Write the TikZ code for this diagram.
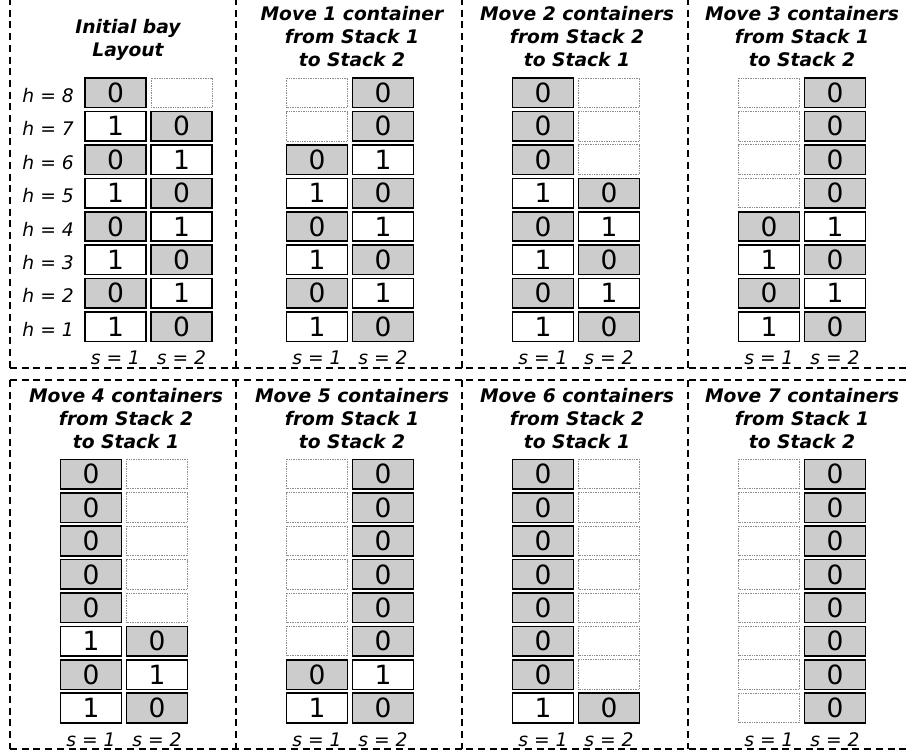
\documentclass[tikz,border=0pt]{standalone}
\usepackage{fontspec}
\setmainfont{DejaVu Sans}
\def\tcz{0}\def\tco{1}\def\tce{}
\tikzset{
  panelline/.style={draw=black, line width=1.4pt, dash pattern=on 7pt off 4.7pt},
  cellbase/.style={minimum width=61pt, minimum height=29.5pt, inner sep=0pt, outer sep=0pt,
    font=\fontsize{26.5}{30}\selectfont},
  cz/.style={cellbase, draw=black, line width=1.6pt, fill=black!20},
  co/.style={cellbase, draw=black, line width=1.6pt, fill=white},
  ce/.style={cellbase, draw=black!45, line width=1pt, dash pattern=on 1pt off 0.7pt},
  ttl/.style={align=center, inner sep=0pt, font=\bfseries\itshape\fontsize{18.7}{23.2}\selectfont},
  lbl/.style={inner sep=0pt, font=\itshape\fontsize{18.7}{22}\selectfont},
}
\newcommand\stackcol[4]{%
  \foreach \v [count=\k] in {#4} {
    \node[\v] (#1h\k) at (#2, {#3-(\k-1)*33.4}) {\csname t\v\endcsname};
  }}
\newcommand\bay[6]{% #1 name, #2 cx, #3 y of h=1, #4 s1 list, #5 s2 list, #6 label baseline
  \stackcol{#1a}{#2-33}{#3}{#4}
  \stackcol{#1b}{#2+33}{#3}{#5}
  \node[lbl, anchor=base] (#1sa) at (#2-33,#6) {s = 1};
  \node[lbl, anchor=base] (#1sb) at (#2+33,#6) {s = 2};
}
\begin{document}
\begin{tikzpicture}[x=1pt,y=-1pt]
\useasboundingbox (0,0) rectangle (906,755);
% dashed panel grid
\foreach \x in {10,236,462,688} {
  \draw[panelline] (\x,-2) -- (\x,368);
  \draw[panelline] (\x,380) -- (\x,749);
}
\draw[panelline] (10,368) -- (910,368);
\draw[panelline] (10,380) -- (910,380);
\draw[panelline] (10,749) -- (910,749);
% titles
\node[ttl] (t1) at (128,39.6) {Initial bay\\Layout};
\node[ttl] (t2) at (352,36.3) {Move 1 container\\from Stack 1\\to Stack 2};
\node[ttl] (t3) at (577,36.3) {Move 2 containers\\from Stack 2\\to Stack 1};
\node[ttl] (t4) at (802,36.3) {Move 3 containers\\from Stack 1\\to Stack 2};
\node[ttl] (t5) at (126,418.3) {Move 4 containers\\from Stack 2\\to Stack 1};
\node[ttl] (t6) at (352,418.3) {Move 5 containers\\from Stack 1\\to Stack 2};
\node[ttl] (t7) at (577,418.3) {Move 6 containers\\from Stack 2\\to Stack 1};
\node[ttl] (t8) at (802,418.3) {Move 7 containers\\from Stack 1\\to Stack 2};
% height labels
\foreach \k in {1,...,8} {
  \node[lbl, anchor=base east] (lh\k) at (74, {326.7-(\k-1)*33.4+9.6}) {h = \k};
}
% bays
\bay{p1}{148.5}{326.7}{co,cz,co,cz,co,cz,co,cz}{cz,co,cz,co,cz,co,cz,ce}{364}
\bay{p2}{350}{326.7}{co,cz,co,cz,co,cz,ce,ce}{cz,co,cz,co,cz,co,cz,cz}{364}
\bay{p3}{576}{326.7}{co,cz,co,cz,co,cz,cz,cz}{cz,co,cz,co,cz,ce,ce,ce}{364}
\bay{p4}{802}{326.7}{co,cz,co,cz,ce,ce,ce,ce}{cz,co,cz,co,cz,cz,cz,cz}{364}
\bay{p5}{124}{708}{co,cz,co,cz,cz,cz,cz,cz}{cz,co,cz,ce,ce,ce,ce,ce}{746}
\bay{p6}{350}{708}{co,cz,ce,ce,ce,ce,ce,ce}{cz,co,cz,cz,cz,cz,cz,cz}{746}
\bay{p7}{576}{708}{co,cz,cz,cz,cz,cz,cz,cz}{cz,ce,ce,ce,ce,ce,ce,ce}{746}
\bay{p8}{802}{708}{ce,ce,ce,ce,ce,ce,ce,ce}{cz,cz,cz,cz,cz,cz,cz,cz}{746}
\end{tikzpicture}
\end{document}
